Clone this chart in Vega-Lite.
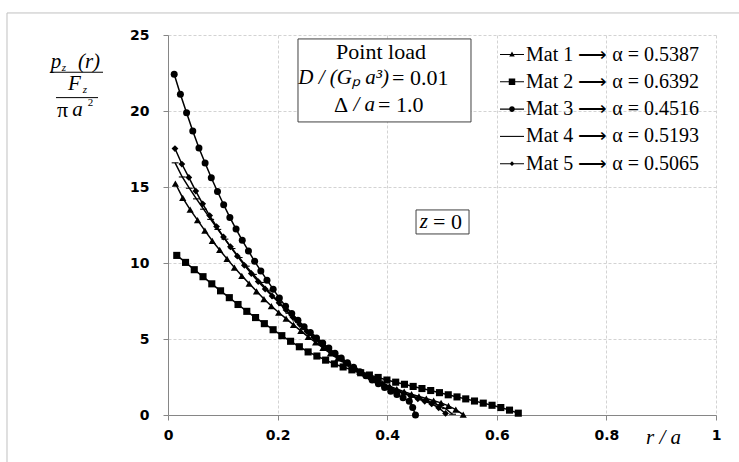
{
 "$schema": "https://vega.github.io/schema/vega-lite/v6.json",
 "width": 548, "height": 380,
 "autosize": {"type": "none"},
 "padding": {"left": 168, "top": 35, "right": 23, "bottom": 47},
 "background": "white",
 "config": {"view": {"stroke": null}},
 "datasets": {
  "curves": [
   {"m":"Mat 1","r":0.0135,"p":15.23},{"m":"Mat 1","r":0.0269,"p":14.28},{"m":"Mat 1","r":0.0404,"p":13.51},{"m":"Mat 1","r":0.0539,"p":12.82},{"m":"Mat 1","r":0.0673,"p":12.13},{"m":"Mat 1","r":0.0808,"p":11.46},{"m":"Mat 1","r":0.0943,"p":10.86},{"m":"Mat 1","r":0.1077,"p":10.27},{"m":"Mat 1","r":0.1212,"p":9.70},{"m":"Mat 1","r":0.1347,"p":9.16},
   {"m":"Mat 1","r":0.1481,"p":8.65},{"m":"Mat 1","r":0.1616,"p":8.14},{"m":"Mat 1","r":0.1751,"p":7.63},{"m":"Mat 1","r":0.1886,"p":7.17},{"m":"Mat 1","r":0.2020,"p":6.74},{"m":"Mat 1","r":0.2155,"p":6.34},{"m":"Mat 1","r":0.2290,"p":5.93},{"m":"Mat 1","r":0.2424,"p":5.53},{"m":"Mat 1","r":0.2559,"p":5.14},{"m":"Mat 1","r":0.2694,"p":4.78},
   {"m":"Mat 1","r":0.2828,"p":4.41},{"m":"Mat 1","r":0.2963,"p":4.05},{"m":"Mat 1","r":0.3098,"p":3.72},{"m":"Mat 1","r":0.3232,"p":3.42},{"m":"Mat 1","r":0.3367,"p":3.11},{"m":"Mat 1","r":0.3502,"p":2.83},{"m":"Mat 1","r":0.3636,"p":2.59},{"m":"Mat 1","r":0.3771,"p":2.33},{"m":"Mat 1","r":0.3906,"p":2.11},{"m":"Mat 1","r":0.4040,"p":1.90},
   {"m":"Mat 1","r":0.4175,"p":1.71},{"m":"Mat 1","r":0.4310,"p":1.54},{"m":"Mat 1","r":0.4444,"p":1.37},{"m":"Mat 1","r":0.4579,"p":1.22},{"m":"Mat 1","r":0.4714,"p":1.08},{"m":"Mat 1","r":0.4848,"p":0.94},{"m":"Mat 1","r":0.4983,"p":0.80},{"m":"Mat 1","r":0.5118,"p":0.60},{"m":"Mat 1","r":0.5252,"p":0.36},{"m":"Mat 1","r":0.5387,"p":0.03},
   {"m":"Mat 2","r":0.0160,"p":10.50},{"m":"Mat 2","r":0.0320,"p":10.04},{"m":"Mat 2","r":0.0479,"p":9.56},{"m":"Mat 2","r":0.0639,"p":9.10},{"m":"Mat 2","r":0.0799,"p":8.63},{"m":"Mat 2","r":0.0959,"p":8.17},{"m":"Mat 2","r":0.1119,"p":7.72},{"m":"Mat 2","r":0.1278,"p":7.27},{"m":"Mat 2","r":0.1438,"p":6.82},{"m":"Mat 2","r":0.1598,"p":6.41},
   {"m":"Mat 2","r":0.1758,"p":6.01},{"m":"Mat 2","r":0.1918,"p":5.61},{"m":"Mat 2","r":0.2077,"p":5.22},{"m":"Mat 2","r":0.2237,"p":4.85},{"m":"Mat 2","r":0.2397,"p":4.49},{"m":"Mat 2","r":0.2557,"p":4.15},{"m":"Mat 2","r":0.2717,"p":3.88},{"m":"Mat 2","r":0.2876,"p":3.61},{"m":"Mat 2","r":0.3036,"p":3.36},{"m":"Mat 2","r":0.3196,"p":3.16},
   {"m":"Mat 2","r":0.3356,"p":2.97},{"m":"Mat 2","r":0.3516,"p":2.78},{"m":"Mat 2","r":0.3675,"p":2.63},{"m":"Mat 2","r":0.3835,"p":2.47},{"m":"Mat 2","r":0.3995,"p":2.30},{"m":"Mat 2","r":0.4155,"p":2.16},{"m":"Mat 2","r":0.4315,"p":2.02},{"m":"Mat 2","r":0.4474,"p":1.88},{"m":"Mat 2","r":0.4634,"p":1.74},{"m":"Mat 2","r":0.4794,"p":1.61},
   {"m":"Mat 2","r":0.4954,"p":1.47},{"m":"Mat 2","r":0.5114,"p":1.33},{"m":"Mat 2","r":0.5274,"p":1.19},{"m":"Mat 2","r":0.5433,"p":1.06},{"m":"Mat 2","r":0.5593,"p":0.92},{"m":"Mat 2","r":0.5753,"p":0.78},{"m":"Mat 2","r":0.5913,"p":0.64},{"m":"Mat 2","r":0.6073,"p":0.49},{"m":"Mat 2","r":0.6232,"p":0.32},{"m":"Mat 2","r":0.6392,"p":0.12},
   {"m":"Mat 3","r":0.0113,"p":22.42},{"m":"Mat 3","r":0.0226,"p":21.10},{"m":"Mat 3","r":0.0339,"p":19.89},{"m":"Mat 3","r":0.0452,"p":18.69},{"m":"Mat 3","r":0.0565,"p":17.56},{"m":"Mat 3","r":0.0677,"p":16.58},{"m":"Mat 3","r":0.0790,"p":15.61},{"m":"Mat 3","r":0.0903,"p":14.70},{"m":"Mat 3","r":0.1016,"p":13.83},{"m":"Mat 3","r":0.1129,"p":13.00},
   {"m":"Mat 3","r":0.1242,"p":12.23},{"m":"Mat 3","r":0.1355,"p":11.49},{"m":"Mat 3","r":0.1468,"p":10.79},{"m":"Mat 3","r":0.1581,"p":10.11},{"m":"Mat 3","r":0.1694,"p":9.48},{"m":"Mat 3","r":0.1806,"p":8.87},{"m":"Mat 3","r":0.1919,"p":8.28},{"m":"Mat 3","r":0.2032,"p":7.69},{"m":"Mat 3","r":0.2145,"p":7.16},{"m":"Mat 3","r":0.2258,"p":6.68},
   {"m":"Mat 3","r":0.2371,"p":6.23},{"m":"Mat 3","r":0.2484,"p":5.81},{"m":"Mat 3","r":0.2597,"p":5.43},{"m":"Mat 3","r":0.2710,"p":5.07},{"m":"Mat 3","r":0.2823,"p":4.73},{"m":"Mat 3","r":0.2935,"p":4.40},{"m":"Mat 3","r":0.3048,"p":4.07},{"m":"Mat 3","r":0.3161,"p":3.75},{"m":"Mat 3","r":0.3274,"p":3.44},{"m":"Mat 3","r":0.3387,"p":3.14},
   {"m":"Mat 3","r":0.3500,"p":2.85},{"m":"Mat 3","r":0.3613,"p":2.58},{"m":"Mat 3","r":0.3726,"p":2.31},{"m":"Mat 3","r":0.3839,"p":2.05},{"m":"Mat 3","r":0.3952,"p":1.81},{"m":"Mat 3","r":0.4065,"p":1.57},{"m":"Mat 3","r":0.4177,"p":1.35},{"m":"Mat 3","r":0.4290,"p":1.13},{"m":"Mat 3","r":0.4403,"p":0.91},{"m":"Mat 3","r":0.4465,"p":0.50},{"m":"Mat 3","r":0.4516,"p":0.00},
   {"m":"Mat 4","r":0.0130,"p":16.59},{"m":"Mat 4","r":0.0260,"p":15.66},{"m":"Mat 4","r":0.0389,"p":14.92},{"m":"Mat 4","r":0.0519,"p":14.22},{"m":"Mat 4","r":0.0649,"p":13.54},{"m":"Mat 4","r":0.0779,"p":12.87},{"m":"Mat 4","r":0.0909,"p":12.21},{"m":"Mat 4","r":0.1039,"p":11.57},{"m":"Mat 4","r":0.1168,"p":10.95},{"m":"Mat 4","r":0.1298,"p":10.36},
   {"m":"Mat 4","r":0.1428,"p":9.79},{"m":"Mat 4","r":0.1558,"p":9.25},{"m":"Mat 4","r":0.1688,"p":8.72},{"m":"Mat 4","r":0.1818,"p":8.21},{"m":"Mat 4","r":0.1947,"p":7.70},{"m":"Mat 4","r":0.2077,"p":7.20},{"m":"Mat 4","r":0.2207,"p":6.69},{"m":"Mat 4","r":0.2337,"p":6.19},{"m":"Mat 4","r":0.2467,"p":5.68},{"m":"Mat 4","r":0.2597,"p":5.26},
   {"m":"Mat 4","r":0.2726,"p":4.87},{"m":"Mat 4","r":0.2856,"p":4.48},{"m":"Mat 4","r":0.2986,"p":4.09},{"m":"Mat 4","r":0.3116,"p":3.76},{"m":"Mat 4","r":0.3246,"p":3.44},{"m":"Mat 4","r":0.3376,"p":3.11},{"m":"Mat 4","r":0.3506,"p":2.81},{"m":"Mat 4","r":0.3635,"p":2.54},{"m":"Mat 4","r":0.3765,"p":2.27},{"m":"Mat 4","r":0.3895,"p":2.05},
   {"m":"Mat 4","r":0.4025,"p":1.84},{"m":"Mat 4","r":0.4155,"p":1.65},{"m":"Mat 4","r":0.4285,"p":1.48},{"m":"Mat 4","r":0.4414,"p":1.31},{"m":"Mat 4","r":0.4544,"p":1.15},{"m":"Mat 4","r":0.4674,"p":1.00},{"m":"Mat 4","r":0.4804,"p":0.84},{"m":"Mat 4","r":0.4934,"p":0.65},{"m":"Mat 4","r":0.5064,"p":0.42},{"m":"Mat 4","r":0.5193,"p":0.05},
   {"m":"Mat 5","r":0.0127,"p":17.53},{"m":"Mat 5","r":0.0253,"p":16.51},{"m":"Mat 5","r":0.0380,"p":15.63},{"m":"Mat 5","r":0.0507,"p":14.73},{"m":"Mat 5","r":0.0633,"p":13.89},{"m":"Mat 5","r":0.0760,"p":13.12},{"m":"Mat 5","r":0.0886,"p":12.40},{"m":"Mat 5","r":0.1013,"p":11.71},{"m":"Mat 5","r":0.1140,"p":11.07},{"m":"Mat 5","r":0.1266,"p":10.45},
   {"m":"Mat 5","r":0.1393,"p":9.85},{"m":"Mat 5","r":0.1520,"p":9.31},{"m":"Mat 5","r":0.1646,"p":8.78},{"m":"Mat 5","r":0.1773,"p":8.29},{"m":"Mat 5","r":0.1899,"p":7.83},{"m":"Mat 5","r":0.2026,"p":7.38},{"m":"Mat 5","r":0.2153,"p":6.91},{"m":"Mat 5","r":0.2279,"p":6.43},{"m":"Mat 5","r":0.2406,"p":5.95},{"m":"Mat 5","r":0.2533,"p":5.50},
   {"m":"Mat 5","r":0.2659,"p":5.12},{"m":"Mat 5","r":0.2786,"p":4.74},{"m":"Mat 5","r":0.2913,"p":4.36},{"m":"Mat 5","r":0.3039,"p":4.00},{"m":"Mat 5","r":0.3166,"p":3.67},{"m":"Mat 5","r":0.3292,"p":3.35},{"m":"Mat 5","r":0.3419,"p":3.02},{"m":"Mat 5","r":0.3546,"p":2.74},{"m":"Mat 5","r":0.3672,"p":2.47},{"m":"Mat 5","r":0.3799,"p":2.20},
   {"m":"Mat 5","r":0.3926,"p":1.99},{"m":"Mat 5","r":0.4052,"p":1.78},{"m":"Mat 5","r":0.4179,"p":1.59},{"m":"Mat 5","r":0.4305,"p":1.42},{"m":"Mat 5","r":0.4432,"p":1.24},{"m":"Mat 5","r":0.4559,"p":1.07},{"m":"Mat 5","r":0.4685,"p":0.90},{"m":"Mat 5","r":0.4812,"p":0.73},{"m":"Mat 5","r":0.4939,"p":0.47},{"m":"Mat 5","r":0.5065,"p":0.10}
  ]
 },
 "layer": [
  {
   "data": {"values": [{"x": -0.2938, "x2": 1.06, "y": 26.45, "y2": -3.5}]},
   "mark": {"type": "rect", "fill": null, "stroke": "#c0c0c0", "strokeWidth": 1, "clip": false},
   "encoding": {"x": {"field": "x", "type": "quantitative"}, "x2": {"field": "x2"}, "y": {"field": "y", "type": "quantitative"}, "y2": {"field": "y2"}}
  },
  {
   "data": {"name": "curves"},
   "mark": {"type": "line", "color": "black", "strokeWidth": 1.5},
   "encoding": {
    "x": {"field": "r", "type": "quantitative", "scale": {"domain": [0, 1], "nice": false},
     "axis": {"values": [0, 0.2, 0.4, 0.6, 0.8, 1], "format": "~g", "title": "r / a",
      "titleFont": "Liberation Serif", "titleFontStyle": "italic", "titleFontWeight": "normal", "titleFontSize": 21, "titleColor": "black",
      "titleX": 495, "titleY": 22, "titleAlign": "center", "titleBaseline": "middle",
      "labelFont": "DejaVu Sans", "labelFontWeight": "bold", "labelFontSize": 14, "labelColor": "black", "labelPadding": 8, "labelFlush": false,
      "tickSize": 5, "tickColor": "#868686", "domainColor": "#868686", "gridColor": "#d3d3d3", "gridDash": [3, 2]}},
    "y": {"field": "p", "type": "quantitative", "scale": {"domain": [0, 25], "nice": false},
     "axis": {"values": [0, 5, 10, 15, 20, 25], "title": null,
      "labelFont": "DejaVu Sans", "labelFontWeight": "bold", "labelFontSize": 14, "labelColor": "black", "labelPadding": 14, "labelFlush": false,
      "tickSize": 5, "tickColor": "#868686", "domainColor": "#868686", "gridColor": "#d3d3d3", "gridDash": [3, 2]}},
    "detail": {"field": "m"}
   }
  },
  {
   "data": {"name": "curves"},
   "mark": {"type": "point", "filled": true, "color": "black", "opacity": 1},
   "encoding": {
    "x": {"field": "r", "type": "quantitative"},
    "y": {"field": "p", "type": "quantitative"},
    "shape": {"field": "m", "type": "nominal", "scale": {"domain": ["Mat 1", "Mat 2", "Mat 3", "Mat 4", "Mat 5"], "range": ["triangle-up", "square", "circle", "M-1,-0.16H1V0.16H-1Z", "diamond"]}, "legend": null},
    "size": {"field": "m", "type": "nominal", "scale": {"domain": ["Mat 1", "Mat 2", "Mat 3", "Mat 4", "Mat 5"], "range": [52, 46, 44, 72, 40]}, "legend": null}
   }
  },
  {
   "data": {"values": [{"m": "Mat 1"}, {"m": "Mat 2"}, {"m": "Mat 3"}, {"m": "Mat 4"}, {"m": "Mat 5"}]},
   "mark": {"type": "point", "filled": true, "color": "black", "opacity": 0, "size": 576},
   "encoding": {
    "shape": {"field": "m", "type": "nominal",
     "scale": {"domain": ["Mat 1", "Mat 2", "Mat 3", "Mat 4", "Mat 5"],
      "range": ["M-1,-0.045H1V0.045H-1ZM0,-0.26L0.23,0.16H-0.23Z", "M-1,-0.045H1V0.045H-1ZM-0.27,-0.27H0.27V0.27H-0.27Z", "M-1,-0.045H1V0.045H-1ZM0.24,0A0.24,0.24 0 1,1 -0.24,0A0.24,0.24 0 1,1 0.24,0Z", "M-1,-0.045H1V0.045H-1Z", "M-1,-0.045H1V0.045H-1ZM0,-0.2L0.2,0L0,0.2L-0.2,0Z"]},
     "legend": {"title": null, "orient": "none", "legendX": 332, "legendY": 7.5, "padding": 0,
      "labelExpr": "datum.label == 'Mat 1' ? 'Mat 1 ⟶ α = 0.5387' : datum.label == 'Mat 2' ? 'Mat 2 ⟶ α = 0.6392' : datum.label == 'Mat 3' ? 'Mat 3 ⟶ α = 0.4516' : datum.label == 'Mat 4' ? 'Mat 4 ⟶ α = 0.5193' : 'Mat 5 ⟶ α = 0.5065'",
      "labelFont": "Liberation Serif", "labelFontSize": 20, "labelColor": "black", "labelLimit": 300, "labelOffset": 2,
      "symbolSize": 576, "symbolOpacity": 1, "symbolFillColor": "black", "symbolStrokeColor": "black", "symbolStrokeWidth": 0, "rowPadding": 5.3,
      "encode": {"symbols": {"update": {"fill": {"value": "black"}, "opacity": {"value": 1}}}}}}
   }
  },
  {
   "data": {"values": [{"x": 0.2372, "x2": 0.5529, "y": 24.74, "y2": 19.28}, {"x": 0.4526, "x2": 0.5493, "y": 13.49, "y2": 11.91}]},
   "mark": {"type": "rect", "fill": "white", "stroke": "#404040", "strokeWidth": 1},
   "encoding": {"x": {"field": "x", "type": "quantitative"}, "x2": {"field": "x2"}, "y": {"field": "y", "type": "quantitative"}, "y2": {"field": "y2"}}
  },
  {
   "data": {"values": [{"x": -0.2153, "x2": -0.1186, "y": 22.55}, {"x": -0.2044, "x2": -0.1277, "y": 20.88}]},
   "mark": {"type": "rule", "color": "black", "strokeWidth": 1},
   "encoding": {"x": {"field": "x", "type": "quantitative"}, "x2": {"field": "x2"}, "y": {"field": "y", "type": "quantitative"}}
  },
  {
   "data": {"values": [{"t": "p", "x": -0.2044, "y": 23.22}, {"t": "(r)", "x": -0.1442, "y": 23.22}, {"t": "F", "x": -0.1706, "y": 21.78}, {"t": "a", "x": -0.1651, "y": 20.07}]},
   "mark": {"type": "text", "font": "Liberation Serif", "fontStyle": "italic", "fontSize": 21, "color": "black", "align": "center", "baseline": "middle"},
   "encoding": {"x": {"field": "x", "type": "quantitative"}, "y": {"field": "y", "type": "quantitative"}, "text": {"field": "t"}}
  },
  {
   "data": {"values": [{"t": "π", "x": -0.1925, "y": 20.07}, {"t": "Point load", "x": 0.3887, "y": 23.88}, {"t": "Δ", "x": 0.3157, "y": 20.39}]},
   "mark": {"type": "text", "font": "Liberation Serif", "fontSize": 22, "color": "black", "align": "center", "baseline": "middle"},
   "encoding": {"x": {"field": "x", "type": "quantitative"}, "y": {"field": "y", "type": "quantitative"}, "text": {"field": "t"}}
  },
  {
   "data": {"values": [{"t": "z", "x": -0.1898, "y": 22.83}, {"t": "z", "x": -0.1515, "y": 21.38}]},
   "mark": {"type": "text", "font": "Liberation Serif", "fontStyle": "italic", "fontSize": 11, "color": "black", "align": "center", "baseline": "middle"},
   "encoding": {"x": {"field": "x", "type": "quantitative"}, "y": {"field": "y", "type": "quantitative"}, "text": {"field": "t"}}
  },
  {
   "data": {"values": [{"t": "2", "x": -0.1414, "y": 20.53}]},
   "mark": {"type": "text", "font": "Liberation Serif", "fontSize": 11, "color": "black", "align": "center", "baseline": "middle"},
   "encoding": {"x": {"field": "x", "type": "quantitative"}, "y": {"field": "y", "type": "quantitative"}, "text": {"field": "t"}}
  },
  {
   "data": {"values": [{"t": "D / (Gₚ a³)", "x": 0.4033, "y": 22.17}, {"t": "/ a", "x": 0.3777, "y": 20.39}, {"t": "z", "x": 0.4745, "y": 12.70}]},
   "mark": {"type": "text", "font": "Liberation Serif", "fontStyle": "italic", "fontSize": 21, "color": "black", "align": "right", "baseline": "middle"},
   "encoding": {"x": {"field": "x", "type": "quantitative"}, "y": {"field": "y", "type": "quantitative"}, "text": {"field": "t"}}
  },
  {
   "data": {"values": [{"t": "=  0.01", "x": 0.4088, "y": 22.17}, {"t": "=  1.0", "x": 0.3832, "y": 20.39}, {"t": "= 0", "x": 0.4836, "y": 12.70}]},
   "mark": {"type": "text", "font": "Liberation Serif", "fontSize": 22, "color": "black", "align": "left", "baseline": "middle"},
   "encoding": {"x": {"field": "x", "type": "quantitative"}, "y": {"field": "y", "type": "quantitative"}, "text": {"field": "t"}}
  }
 ],
 "resolve": {"scale": {"shape": "independent", "size": "independent"}}
}
